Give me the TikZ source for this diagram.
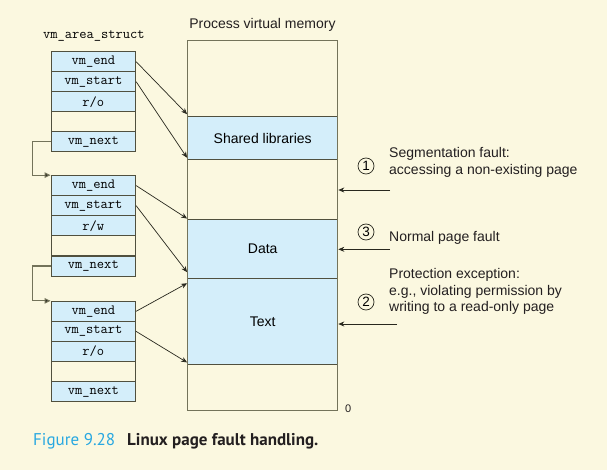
\documentclass[tikz,border=0pt]{standalone}
\usepackage{fontspec}
\setmainfont{Liberation Sans}
\setmonofont{Latin Modern Mono}
\newfontfamily\capfont{PT Sans}
\usetikzlibrary{arrows.meta,calc}
\definecolor{bgc}{RGB}{251,248,224}
\definecolor{bluef}{RGB}{212,238,250}
\definecolor{edgec}{RGB}{80,80,62}
\definecolor{outc}{RGB}{115,115,90}
\definecolor{arrc}{RGB}{40,40,30}
\definecolor{capblue}{RGB}{40,168,225}
\definecolor{captxt}{RGB}{35,31,32}
\tikzset{
  rowbox/.style={draw=edgec, line width=0.9pt, fill=bluef, minimum width=84.7pt, minimum height=20pt, inner sep=0pt, font=\ttfamily\fontsize{14.1}{14}\selectfont},
  blankrow/.style={rowbox, fill=bgc},
  band/.style={draw=edgec, line width=0.9pt, fill=bluef, minimum width=150pt, inner sep=0pt, font=\fontsize{14}{16}\selectfont},
  ptr/.style={draw=arrc, line width=0.7pt, -{Stealth[length=6pt,width=5pt]}},
  link/.style={draw=outc, line width=1.1pt, -{Triangle[length=6pt,width=5.5pt,fill=arrc]}},
  fault/.style={draw=arrc, line width=0.7pt, -{Stealth[length=6pt,width=5pt]}},
  num/.style={circle, draw=arrc, line width=0.7pt, minimum size=16pt, inner sep=0pt, font=\fontsize{13.5}{13}\selectfont},
  lbl/.style={anchor=west, align=left, inner sep=0pt, font=\fontsize{14}{16.5}\selectfont, text=captxt},
}
\begin{document}
\begin{tikzpicture}[x=1pt,y=-1pt]
\fill[bgc] (0,0) rectangle (607,470);
\useasboundingbox (0,0) rectangle (607,470);

% memory
\node[band, minimum height=42.7pt] (shl) at (262.7,138) {Shared libraries};
\node[band, minimum height=59.7pt] (data) at (262.7,248.85) {Data};
\node[band, minimum height=85.3pt] (text) at (262.7,321.35) {Text};
\node[draw=outc, line width=1.2pt, minimum width=150pt, minimum height=370pt, inner sep=0pt] (mem) at (262.7,225.7) {};
\node[anchor=south, inner sep=0pt, font=\fontsize{14}{16}\selectfont, text=captxt] (pvm) at (262.4,32) {Process virtual memory};
\node[anchor=west, inner sep=0pt, font=\fontsize{11}{12}\selectfont, text=captxt] (zero) at (345,409) {0};

% struct label
\node[inner sep=0pt, font=\ttfamily\fontsize{14.1}{14}\selectfont] (vas) at (93.9,36) {vm\_area\_struct};

% struct 1
\node[rowbox] (a1) at (93.35,61.7) {vm\_end};
\node[rowbox] (a2) at (93.35,81.7) {vm\_start};
\node[rowbox] (a3) at (93.35,101.7) {r/o};
\node[blankrow] (a4) at (93.35,121.7) {};
\node[rowbox] (a5) at (93.35,141.7) {vm\_next};
% struct 2
\node[rowbox] (b1) at (93.35,185.6) {vm\_end};
\node[rowbox] (b2) at (93.35,205.7) {vm\_start};
\node[rowbox] (b3) at (93.35,225.8) {r/w};
\node[blankrow] (b4) at (93.35,245.9) {};
\node[rowbox] (b5) at (93.35,266.0) {vm\_next};
% struct 3
\node[rowbox] (c1) at (93.35,311.3) {vm\_end};
\node[rowbox] (c2) at (93.35,331.4) {vm\_start};
\node[rowbox] (c3) at (93.35,351.5) {r/o};
\node[blankrow] (c4) at (93.35,371.6) {};
\node[rowbox] (c5) at (93.35,391.7) {vm\_next};

% links
\draw[link] (a5.west) -- ++(-18,0) |- (b1.north west);
\draw[link] (b5.west) -- ++(-18,0) |- (c1.north west);

% pointers
\draw[ptr] (a1.east) -- ($(mem.west |- shl.north)+(0,-2)$);
\draw[ptr] (a2.east) -- ($(mem.west |- shl.south)+(0,-2)$);
\draw[ptr] (b1.east) -- (mem.west |- data.north);
\draw[ptr] (b2.east) -- ($(mem.west |- data.south)+(0,-7)$);
\draw[ptr] (c1.east) -- ($(mem.west |- text.north)+(0,5)$);
\draw[ptr] (c2.east) -- ($(mem.west |- text.south)+(0,-2)$);

% faults
\coordinate (f1) at (390,190);
\coordinate (f3) at (390,249.3);
\coordinate (f2) at (397,324);
\draw[fault] (f1) -- (f1 -| mem.east);
\draw[fault] (f3) -- (f3 -| mem.east);
\draw[fault] (f2) -- (f2 -| mem.east);
\node[num] (n1) at (366,166) {1};
\node[num] (n3) at (366,232) {3};
\node[num] (n2) at (366,302) {2};
\node[lbl] (t1) at (389,162.4) {Segmentation fault:\\accessing a non-existing page};
\node[lbl] (t3) at (389,237.5) {Normal page fault};
\node[lbl] (t2) at (389,291.8) {Protection exception:\\e.g., violating permission by\\writing to a read-only page};

% caption
\node[anchor=west, inner sep=0pt, font=\capfont\fontsize{17}{18}\selectfont, text=capblue] (fig) at (33,441.7) {Figure 9.28};
\node[anchor=west, inner sep=0pt, font=\capfont\bfseries\fontsize{17}{18}\selectfont, text=captxt] (cap) at (127,441.7) {Linux page fault handling.};
\end{tikzpicture}
\end{document}
